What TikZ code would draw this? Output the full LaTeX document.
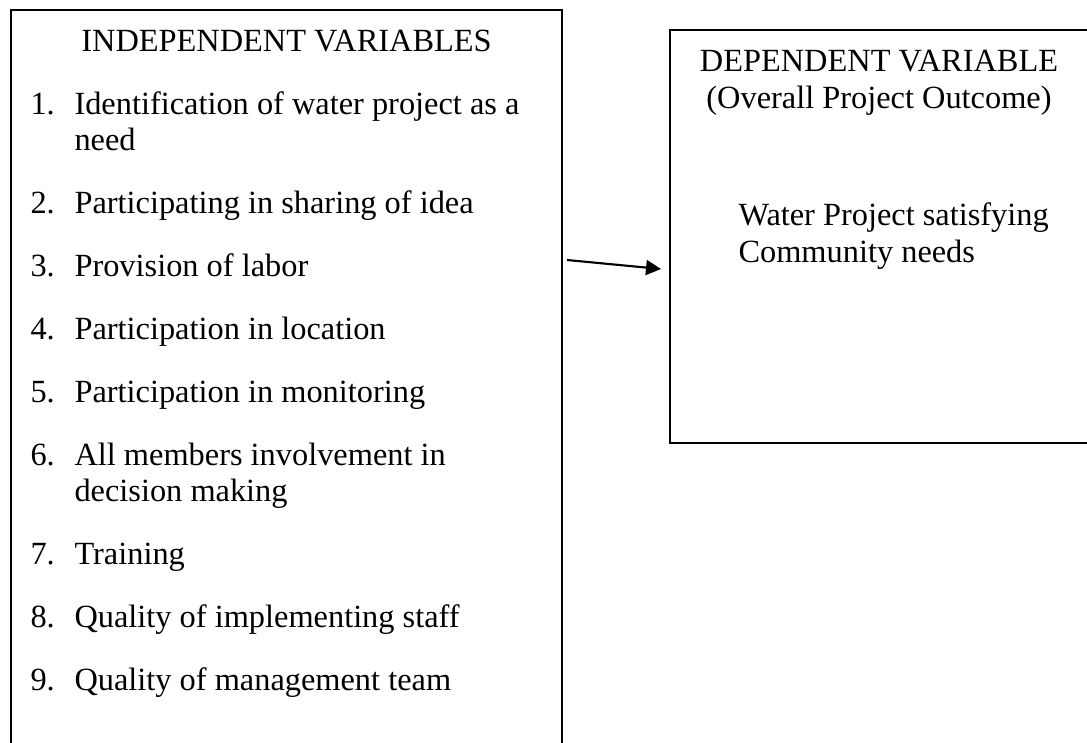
\documentclass[tikz,border=0pt]{standalone}
\usepackage{fontspec}
\setmainfont{Liberation Serif}
\usetikzlibrary{arrows.meta}

\begin{document}
\begin{tikzpicture}[x=0.38pt,y=-0.38pt,
  every node/.style={font=\fontsize{12.3}{13.7}\selectfont,inner sep=0pt},
  varbox/.style={draw,line width=0.8pt},
  num/.style={anchor=base west},
  item/.style={anchor=base west,align=left}]
\useasboundingbox (0,0) rectangle (1087,742);
\clip (0,0) rectangle (1087,742);
% the two variable boxes
\node[varbox,minimum width=209.4pt,minimum height=296.4pt] (indep) at (286.5,400) {};
\node[varbox,minimum width=158.8pt,minimum height=156.9pt] (dep) at (879,236.5) {};
% independent variables
\node[anchor=base] (indeptitle) at (286.5,51) {INDEPENDENT VARIABLES};
\foreach \i/\y/\txt in {1/114/{Identification of water project as a\\need},
    2/213/{Participating in sharing of idea},
    3/276/{Provision of labor},
    4/339/{Participation in location},
    5/402/{Participation in monitoring},
    6/465/{All members involvement in\\decision making},
    7/564/{Training},
    8/627/{Quality of implementing staff},
    9/690/{Quality of management team}}
{
  \node[num] (n\i) at (30,\y) {\i.};
  \node[item] (t\i) at (74,\y) {\parbox[t]{190pt}{\txt}};
}
% dependent variable (base = last line)
\node[anchor=base,align=center] (deptitle) at (879,108) {DEPENDENT VARIABLE\\(Overall Project Outcome)};
\node[item] (outcome) at (738,262) {Water Project satisfying\\Community needs};
% link
\coordinate (from) at (567,260);
\coordinate (to) at (661,269);
\draw[line width=0.8pt,-{Triangle[length=5.7pt,width=5.7pt]}] (from) -- (to);
\end{tikzpicture}
\end{document}
